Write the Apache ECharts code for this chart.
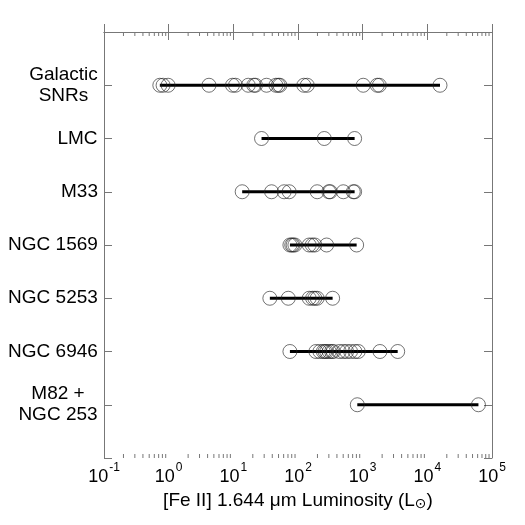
<!DOCTYPE html>
<html>
<head>
<meta charset="utf-8">
<script src="https://cdn.jsdelivr.net/npm/echarts@6/dist/echarts.min.js"></script>
<style>
  html, body { margin: 0; padding: 0; background: #fff; }
  #chart { width: 525px; height: 525px; }
</style>
</head>
<body>
<div id="chart"></div>
<script>
// row names, top to bottom
const names = ['Galactic\nSNRs', 'LMC', 'M33', 'NGC 1569', 'NGC 5253', 'NGC 6946', 'M82 +\nNGC 253']

// [Fe II] luminosities (L_sun)
const galactic = [0.73, 0.82, 0.98, 4.2, 9.7, 10.8, 17, 20.7, 22, 32.6, 45.5, 49.5, 52.5, 123, 139, 1020, 1680, 1810, 15700]
const lmc = [27.3, 255, 751]
const m33 = [13.7, 39, 61, 73, 198, 300, 315, 502, 716, 751]
const ngc1569 = [75, 80, 84, 89.5, 149, 166, 182, 277, 807]
const ngc5253 = [36.7, 70.7, 149, 168, 182, 198, 343]
const ngc6946 = [75, 189, 218, 246, 261, 277, 304, 331, 351, 435, 502, 565, 651, 759, 855, 1850, 3480]
const m82 = [826, 61700]

const rows = [galactic, lmc, m33, ngc1569, ngc5253, ngc6946, m82]

// minor tick positions on the log axis (2..9 x each decade)
const minorTicks = []
for (let e = -1; e < 5; e++) {
  for (let m = 2; m <= 9; m++) minorTicks.push(m * Math.pow(10, e))
}

const font = 'Liberation Sans, Arial, sans-serif'
const axisGray = '#777'
const labelSize = 19

// multi-line names: lines centred on each other, block right-aligned
const ctx = document.createElement('canvas').getContext('2d')
ctx.font = labelSize + 'px ' + font
const labelRich = {}
const labelText = names.map((n, i) => {
  const lines = n.split('\n')
  const w = Math.max(...lines.map(s => ctx.measureText(s).width))
  labelRich['r' + i] = { fontSize: labelSize, fontFamily: font, color: '#000', lineHeight: 21, width: Math.ceil(w), align: 'center' }
  return lines.map(s => '{r' + i + '|' + s + '}').join('\n')
})

const chart = echarts.init(document.getElementById('chart'))

const points = []
rows.forEach((vals, i) => {
  vals.forEach(v => points.push([v, i + 1]))
})

const rangeSeries = rows.map((vals, i) => ({
  type: 'line',
  xAxisIndex: 0,
  yAxisIndex: 0,
  data: [[Math.min(...vals), i + 1], [Math.max(...vals), i + 1]],
  symbol: 'none',
  lineStyle: { color: '#000', width: 3 },
  silent: true,
  animation: false,
  z: 2
}))

const xBase = {
  type: 'log',
  logBase: 10,
  min: 0.1,
  max: 100000,
  axisLine: { show: true, lineStyle: { color: axisGray, width: 1 } },
  axisTick: { show: true, inside: true, length: 8, lineStyle: { color: axisGray } },
  splitLine: { show: false }
}

const yBase = {
  type: 'value',
  min: 0,
  max: 8,
  interval: 1,
  inverse: true,
  axisLine: { show: true, lineStyle: { color: axisGray, width: 1 } },
  axisTick: { show: true, inside: true, length: 8, lineStyle: { color: axisGray } },
  splitLine: { show: false }
}

chart.setOption({
  animation: false,
  backgroundColor: '#fff',
  grid: { left: 104, right: 33, top: 32, bottom: 67 },
  xAxis: [
    Object.assign({}, xBase, {
      position: 'bottom',
      name: '[Fe II] 1.644 μm Luminosity (L{sub|⊙})',
      nameLocation: 'middle',
      nameGap: 30,
      nameTextStyle: {
        color: '#000', fontSize: 19, fontFamily: font,
        rich: { sub: { fontSize: 14, fontFamily: 'DejaVu Sans', verticalAlign: 'bottom', padding: [7, 0, 0, 0] } }
      },
      axisLabel: {
        margin: 4,
        color: '#000',
        fontFamily: font,
        formatter: v => '{b|10}{s|' + Math.round(Math.log10(v)) + '}',
        rich: {
          b: { fontSize: 18, fontFamily: font, color: '#000', padding: [6, 0, 0, 0] },
          s: { fontSize: 12, fontFamily: font, color: '#000', verticalAlign: 'top', padding: [0, 0, 6, 1] }
        }
      }
    }),
    Object.assign({}, xBase, { position: 'top', axisLabel: { show: false } })
  ],
  yAxis: [
    Object.assign({}, yBase, {
      position: 'left',
      axisLabel: {
        margin: 6,
        align: 'right',
        formatter: v => (v >= 1 && v <= 7 ? labelText[v - 1] : ''),
        rich: labelRich
      }
    }),
    Object.assign({}, yBase, { position: 'right', axisLabel: { show: false } })
  ],
  series: rangeSeries.concat([
    {
      type: 'scatter',
      xAxisIndex: 0,
      yAxisIndex: 0,
      data: points,
      symbol: 'circle',
      symbolSize: 14,
      itemStyle: { color: 'rgba(0,0,0,0)', borderColor: '#222', borderWidth: 0.8 },
      z: 3
    },
    {
      // minor ticks on bottom and top axes
      type: 'custom',
      xAxisIndex: 0,
      yAxisIndex: 0,
      silent: true,
      data: minorTicks.map(v => [v]),
      renderItem: (params, api) => {
        const b = api.coord([api.value(0), 8])
        const t = api.coord([api.value(0), 0])
        const st = { stroke: axisGray, lineWidth: 1 }
        return {
          type: 'group',
          children: [
            { type: 'line', shape: { x1: b[0], y1: b[1], x2: b[0], y2: b[1] - 4 }, style: st },
            { type: 'line', shape: { x1: t[0], y1: t[1], x2: t[0], y2: t[1] + 4 }, style: st }
          ]
        }
      },
      z: 1
    }
  ])
})
</script>
</body>
</html>
